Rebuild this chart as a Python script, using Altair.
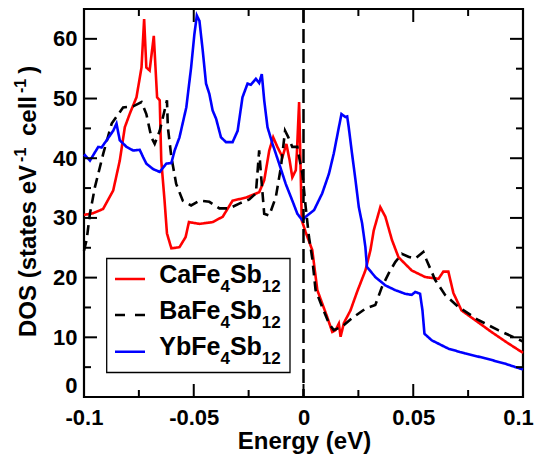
import altair as alt
import pandas as pd

# ---------------- data ----------------
series_names = ["CaFe4Sb12", "BaFe4Sb12", "YbFe4Sb12"]
series_colors = ["#ff0000", "#000000", "#0000ff"]
series_dash = [[1, 0], [10, 6], [1, 0]]

ca_x = [-0.1, -0.0958, -0.0913, -0.0867, -0.0837, -0.0814, -0.0791, -0.0761, -0.0738, -0.0726,
        -0.0716, -0.0701, -0.0682, -0.0667, -0.0655, -0.0648, -0.0633, -0.0622, -0.0602, -0.0565,
        -0.0537, -0.0522, -0.0474, -0.0414, -0.0368, -0.0323, -0.0262, -0.0202, -0.0179, -0.0156,
        -0.0138, -0.0119, -0.0096, -0.0078, -0.0063, -0.0051, -0.0035, -0.003, -0.002, -0.0008,
        0.001, 0.004, 0.0063, 0.0085, 0.0108, 0.0131, 0.0146, 0.0161, 0.0169, 0.0184,
        0.0214, 0.0244, 0.0282, 0.0305, 0.032, 0.035, 0.0373, 0.0403, 0.0433, 0.0493,
        0.0554, 0.0615, 0.0637, 0.066, 0.0683, 0.072, 0.0781, 0.0856, 0.0932, 0.1]
ca_y = [30.5, 30.8, 31.5, 34.6, 39.6, 45.2, 47.5, 50.2, 55.2, 63.3,
        55.2, 54.7, 60.5, 50.2, 49.7, 39.6, 32.9, 27.4, 24.9, 25.1,
        26.8, 29.3, 29.0, 29.3, 30.2, 32.9, 33.4, 34.3, 36.3, 41.3,
        43.5, 41.9, 40.2, 42.4, 39.6, 36.8, 38.0, 41.0, 49.4, 29.6,
        27.6, 24.6, 17.9, 15.7, 13.4, 10.9, 11.2, 12.3, 10.1, 12.4,
        14.5, 17.6, 21.2, 24.6, 27.9, 31.8, 30.2, 26.3, 23.4, 21.2,
        20.1, 19.8, 21.0, 21.0, 17.4, 14.5, 12.9, 10.9, 9.0, 7.4]

ba_x = [-0.1, -0.0988, -0.0973, -0.095, -0.0912, -0.0874, -0.0822, -0.0776, -0.0738, -0.0716,
        -0.0693, -0.0678, -0.0655, -0.0633, -0.0622, -0.0618, -0.0602, -0.058, -0.055, -0.0512,
        -0.0474, -0.0429, -0.0383, -0.0338, -0.0293, -0.0247, -0.0217, -0.0202, -0.0194, -0.0179,
        -0.0156, -0.0126, -0.0103, -0.0084, -0.0069, -0.0051, -0.0028, -0.0017, -0.0005, 0.001,
        0.0025, 0.004, 0.0055, 0.0085, 0.0116, 0.0138, 0.0176, 0.0221, 0.0282, 0.0327,
        0.0357, 0.0388, 0.0418, 0.0448, 0.0478, 0.0509, 0.0546, 0.0561, 0.06, 0.0645,
        0.0705, 0.0796, 0.0887, 0.1]
ba_y = [24.5, 26.3, 30.7, 35.2, 40.8, 45.8, 48.5, 48.7, 49.4, 47.4,
        43.5, 42.4, 44.6, 48.0, 49.7, 45.2, 40.2, 35.7, 32.9, 32.1,
        32.9, 32.7, 31.6, 31.6, 32.4, 33.1, 34.1, 41.3, 37.4, 30.7,
        30.4, 33.5, 38.5, 44.6, 43.5, 41.9, 41.9, 39.6, 37.4, 31.8,
        26.8, 23.2, 17.9, 15.1, 12.3, 11.2, 11.8, 13.2, 14.8, 15.4,
        18.4, 20.7, 22.6, 24.0, 23.5, 23.2, 24.3, 22.9, 19.6, 17.1,
        15.1, 12.9, 11.2, 9.3]

yb_x = [-0.1, -0.0995, -0.0973, -0.095, -0.0935, -0.092, -0.0897, -0.0867, -0.0852, -0.0837,
        -0.0806, -0.0776, -0.0746, -0.0731, -0.0716, -0.0686, -0.0655, -0.0625, -0.0602, -0.0587,
        -0.0565, -0.0534, -0.0512, -0.0497, -0.0486, -0.0474, -0.0459, -0.0444, -0.0429, -0.0414,
        -0.0398, -0.0376, -0.0353, -0.0323, -0.03, -0.0278, -0.0255, -0.024, -0.0217, -0.0202,
        -0.019, -0.0179, -0.0164, -0.0141, -0.0111, -0.0081, -0.0051, -0.0028, -0.0005, 0.001,
        0.0048, 0.0085, 0.0116, 0.0138, 0.0158, 0.0173, 0.0191, 0.0199, 0.0206, 0.0221,
        0.0237, 0.0252, 0.0267, 0.0282, 0.0289, 0.0327, 0.0373, 0.0418, 0.0463, 0.0493,
        0.0509, 0.0531, 0.0542, 0.0551, 0.0584, 0.066, 0.0736, 0.0826, 0.0917, 0.1]
yb_y = [40.3, 40.5, 39.6, 41.0, 41.9, 41.8, 43.0, 44.6, 45.8, 43.0,
        41.9, 41.3, 41.4, 40.2, 39.1, 38.2, 37.7, 39.1, 39.2, 41.3,
        43.5, 48.5, 55.2, 60.8, 63.9, 63.0, 58.0, 52.5, 50.8, 48.0,
        46.6, 43.5, 42.7, 42.7, 44.6, 50.2, 52.5, 52.3, 53.3, 52.6,
        54.1, 49.7, 45.2, 42.4, 39.1, 35.7, 32.9, 30.7, 29.6, 30.2,
        31.3, 34.1, 37.4, 40.8, 44.6, 47.4, 46.9, 47.0, 45.2, 40.8,
        36.3, 31.8, 29.1, 25.1, 21.8, 20.1, 18.7, 17.9, 17.3, 17.1,
        17.6, 17.3, 14.5, 10.6, 9.5, 8.1, 7.3, 6.5, 5.6, 4.6]

x_major = [-0.1, -0.05, 0, 0.05, 0.1]
x_minor = [-0.075, -0.025, 0.025, 0.075]
y_major = [0, 10, 20, 30, 40, 50, 60]
y_minor = [5, 15, 25, 35, 45, 55, 65]
fermi = [0]

legend_main = [("CaFe", "Sb"), ("BaFe", "Sb"), ("YbFe", "Sb")]
legend_subs = [("4", "12"), ("4", "12"), ("4", "12")]

# ---------------- layout ----------------
W, H = 439, 388
FONT = "Liberation Sans"
MAJ, MIN = 13, 7

# Arial/Liberation Sans Bold advance widths (per 1000 em) for text layout
AW = {" ": 278, "(": 333, ")": 333, "-": 333, "D": 722, "O": 778, "S": 667, "s": 556,
      "t": 333, "a": 556, "e": 556, "V": 667, "c": 556, "l": 278, "C": 722, "F": 611,
      "B": 722, "Y": 667, "b": 611}
for d in "0123456789":
    AW[d] = 556


def tw(s, size):
    return sum(AW.get(ch, 556) for ch in s) * size / 1000.0


rows = []
for name, xs, ys in zip(series_names, [ca_x, ba_x, yb_x], [ca_y, ba_y, yb_y]):
    for a, b in zip(xs, ys):
        rows.append({"series": name, "energy": a, "dos": b})
df = pd.DataFrame(rows)

xscale = alt.Scale(domain=[-0.1, 0.1], nice=False, zero=False)
yscale = alt.Scale(domain=[0, 65], nice=False, zero=False)

x_axis = alt.Axis(values=x_major, labelExpr="toString(datum.value)", ticks=False, tickSize=0,
                  domain=False, grid=False, labelFont=FONT, labelFontWeight="bold",
                  labelFontSize=22, labelColor="black", labelPadding=10, labelFlush=False,
                  labelOffset={"condition": {"test": "datum.value > 0.099", "value": -5}, "value": 0},
                  labelOverlap=False, title=None)
y_axis = alt.Axis(values=y_major, format="d", ticks=False, tickSize=0, domain=False, grid=False,
                  labelFont=FONT, labelFontWeight="bold", labelFontSize=22, labelColor="black",
                  labelPadding=7, labelFlush=True, labelOverlap=False, title=None)

layers = []

lines = alt.Chart(df).mark_line(strokeWidth=2.6).encode(
    x=alt.X("energy:Q", scale=xscale, axis=x_axis),
    y=alt.Y("dos:Q", scale=yscale, axis=y_axis),
    color=alt.Color("series:N", scale=alt.Scale(domain=series_names, range=series_colors), legend=None),
    strokeDash=alt.StrokeDash("series:N", scale=alt.Scale(domain=series_names, range=series_dash), legend=None),
    order=alt.Order("energy:Q"),
)
layers.append(lines)

zero_line = alt.Chart(pd.DataFrame({"e": fermi})).mark_rule(
    color="black", strokeWidth=2.5, strokeDash=[14, 6]).encode(
    x=alt.X("e:Q", scale=xscale, axis=x_axis))
layers.append(zero_line)

# inward ticks on all four sides
for vals, ln in [(x_major, MAJ), (x_minor, MIN)]:
    d = pd.DataFrame({"t": vals})
    layers.append(alt.Chart(d).mark_rule(color="black", strokeWidth=2).encode(
        x=alt.X("t:Q", scale=xscale, axis=x_axis), y=alt.value(H), y2=alt.value(H - ln)))
    layers.append(alt.Chart(d).mark_rule(color="black", strokeWidth=2).encode(
        x=alt.X("t:Q", scale=xscale, axis=x_axis), y=alt.value(0), y2=alt.value(ln)))
for vals, ln in [(y_major, MAJ), (y_minor, MIN)]:
    d = pd.DataFrame({"t": vals})
    layers.append(alt.Chart(d).mark_rule(color="black", strokeWidth=2).encode(
        y=alt.Y("t:Q", scale=yscale, axis=y_axis), x=alt.value(0), x2=alt.value(ln)))
    layers.append(alt.Chart(d).mark_rule(color="black", strokeWidth=2).encode(
        y=alt.Y("t:Q", scale=yscale, axis=y_axis), x=alt.value(W), x2=alt.value(W - ln)))

one = pd.DataFrame({"k": [0]})


def text_piece(txt, x, y, size, angle=0, align="left"):
    kw = dict(text=txt, font=FONT, fontWeight="bold", fontSize=size, color="black",
              align=align, baseline="alphabetic")
    if angle:
        kw["angle"] = angle
    return alt.Chart(one).mark_text(**kw).encode(x=alt.value(x), y=alt.value(y))


# legend box
layers.append(alt.Chart(one).mark_rect(fill="white", stroke="black", strokeWidth=1.3).encode(
    x=alt.value(22.7), x2=alt.value(206), y=alt.value(249.5), y2=alt.value(363.5)))

LF, LS = 25, 17
sym_y = [270, 306, 342.7]
base_y = [274.3, 310, 346]
for i, name in enumerate(series_names):
    dash = [10, 10] if i == 1 else [1, 0]
    layers.append(alt.Chart(one).mark_rule(color=series_colors[i], strokeWidth=2.6, strokeDash=dash).encode(
        x=alt.value(31), x2=alt.value(61), y=alt.value(sym_y[i])))
    m1, m2 = legend_main[i]
    s1, s2 = legend_subs[i]
    x0 = 75.3
    layers.append(text_piece(m1, x0, base_y[i], LF))
    x0 += tw(m1, LF)
    layers.append(text_piece(s1, x0, base_y[i] + 9, LS))
    x0 += tw(s1, LS)
    layers.append(text_piece(m2, x0, base_y[i], LF))
    x0 += tw(m2, LF)
    layers.append(text_piece(s2, x0, base_y[i] + 9, LS))

# x title
layers.append(text_piece("Energy (eV)", W / 2 + 1, 440, 24, align="center"))

# y title (rotated, with superscripts)
TF, TS = 24, 16
bx, sx = -48.5, -58.5
yy = 328
layers.append(text_piece("DOS (states eV", bx, yy, TF, angle=270))
yy -= tw("DOS (states eV", TF) + 3
layers.append(text_piece("-1", sx, yy, TS, angle=270))
yy -= tw("-1", TS) + 5 + tw(" ", TF)
layers.append(text_piece("cell", bx, yy, TF, angle=270))
yy -= tw("cell", TF) + 3
layers.append(text_piece("-1", sx, yy, TS, angle=270))
yy -= tw("-1", TS) + 5
layers.append(text_piece(")", bx, yy, TF, angle=270))

chart = alt.layer(*layers).properties(
    width=W, height=H,
    autosize=alt.AutoSizeParams(type="none"),
    padding={"left": 76, "top": 1, "right": 12, "bottom": 57},
).configure_view(stroke="black", strokeWidth=2.2)

chart.save("out.html", embed_options={"renderer": "svg", "actions": False})
